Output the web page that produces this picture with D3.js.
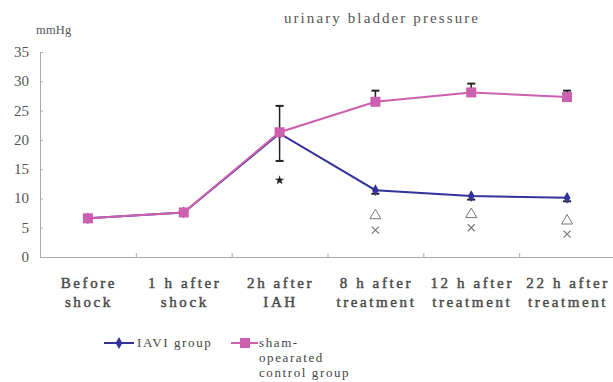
<!DOCTYPE html>
<html lang="en">
<head>
<meta charset="UTF-8">
<title>urinary bladder pressure</title>
<script src="https://d3js.org/d3.v7.min.js"></script>
<style>
    body { margin: 0; background: #fff; }
</style>
</head>
<body>
<svg id="chart" width="613" height="382"></svg>
<script>
    const categories = [["Before", "shock"], ["1 h after", "shock"], ["2h after", "IAH"],
        ["8 h after", "treatment"], ["12 h after", "treatment"], ["22 h after", "treatment"]];
    const shamValues = [6.6, 7.6, 21.3, 26.5, 28.1, 27.3];
    const shamErr = [0, 0, 0, 1.9, 1.5, 1.1];
    const iaviValues = [6.6, 7.6, 21.1, 11.4, 10.4, 10.1];
    const iaviErr = [0, 0, 4.7, 0.6, 0.6, 0.6];
    const starMarks = [{i: 2, v: 13.1}];
    const triMarks = [{i: 3, v: 7.3}, {i: 4, v: 7.5}, {i: 5, v: 6.4}];
    const crossMarks = [{i: 3, v: 4.6}, {i: 4, v: 5.0}, {i: 5, v: 3.9}];
    const yTicks = [0, 5, 10, 15, 20, 25, 30, 35];

    const serif = "'Liberation Serif', 'DejaVu Serif', serif";
    const blue = "#33339a";
    const pink = "#cc5fae";
    const svg = d3.select("#chart");
    const plotLeft = 40, plotRight = 615, plotTop = 52, plotBottom = 257;

    const x = d3.scaleBand().domain(d3.range(categories.length)).range([plotLeft, plotRight]);
    const y = d3.scaleLinear().domain([0, 35]).range([plotBottom, plotTop]);
    const cx = i => x(i) + x.bandwidth() / 2;

    // spaced serif text, roughly like the wide CJK-font latin in the original
    const label = (g, t, xx, yy, size, spacing, opts = {}) => g.append("text")
        .attr("font-family", serif).attr("x", xx).attr("y", yy)
        .attr("font-size", size).attr("letter-spacing", spacing)
        .attr("text-anchor", opts.anchor || "start")
        .attr("stroke", opts.stroke ? (opts.fill || "#555") : "none")
        .attr("stroke-width", opts.stroke || 0)
        .attr("fill", opts.fill || "#555").text(t);

    // title and unit
    label(svg, "urinary bladder pressure", 382, 23, 15, 2.1, {anchor: "middle"});
    label(svg, "mmHg", 36, 34, 12.5, 0.2);

    // y axis
    const yAxis = svg.append("g").attr("transform", `translate(${plotLeft},0)`)
        .call(d3.axisRight(y).tickValues(yTicks).tickSize(3).tickFormat(""));
    yAxis.selectAll("line, path").attr("stroke", "#aaa");
    svg.selectAll(".ylab").data(yTicks).enter().append("text")
        .attr("x", 29).attr("y", d => y(d) + 5)
        .attr("text-anchor", "end").attr("font-family", serif)
        .attr("font-size", 15).attr("fill", "#555").text(d => d);

    // x axis
    const xAxis = svg.append("g").attr("transform", `translate(0,${plotBottom})`)
        .call(d3.axisTop(d3.scaleLinear().domain([0, 6]).range([plotLeft, plotRight]))
            .tickValues(d3.range(1, 6)).tickSize(4).tickFormat(""));
    xAxis.selectAll("line, path").attr("stroke", "#aaa");
    categories.forEach((c, i) => {
        c.forEach((t, k) => {
            label(svg, t, cx(i) + 1, 288 + k * 19, 15, 2.6, {anchor: "middle", fill: "#4a4a4a", stroke: 0.45});
        });
    });

    const line = d3.line().x((d, i) => cx(i)).y(d => y(d));

    // error bars
    const errBar = (vals, errs, up, down) => {
        vals.forEach((v, i) => {
            if (!errs[i]) return;
            const y1 = up ? y(v + errs[i]) : y(v);
            const y2 = down ? y(v - errs[i]) : y(v);
            svg.append("line").attr("x1", cx(i)).attr("x2", cx(i)).attr("y1", y1).attr("y2", y2)
                .attr("stroke", "#222").attr("stroke-width", 1.5);
            [y1, y2].forEach(yy => {
                if (yy === y(v)) return;
                svg.append("line").attr("x1", cx(i) - 4).attr("x2", cx(i) + 4).attr("y1", yy).attr("y2", yy)
                    .attr("stroke", "#222").attr("stroke-width", 2);
            });
        });
    };
    errBar(iaviValues, iaviErr.map((e, i) => i === 2 ? 0 : e), false, true);
    errBar(shamValues, shamErr, true, false);
    // the 2h after IAH bar spans both sides
    errBar(iaviValues, iaviErr.map((e, i) => i === 2 ? e : 0), true, true);

    // IAVI group
    svg.append("path").datum(iaviValues).attr("d", line)
        .attr("fill", "none").attr("stroke", blue).attr("stroke-width", 2);
    svg.selectAll(".iavi").data(iaviValues).enter().append("path")
        .attr("transform", (d, i) => `translate(${cx(i)},${y(d)})`)
        .attr("d", d3.symbol(d3.symbolDiamond, 40)).attr("fill", blue);

    // sham group
    svg.append("path").datum(shamValues).attr("d", line)
        .attr("fill", "none").attr("stroke", pink).attr("stroke-width", 2);
    svg.selectAll(".sham").data(shamValues).enter().append("rect")
        .attr("x", (d, i) => cx(i) - 5).attr("y", d => y(d) - 5)
        .attr("width", 10).attr("height", 10).attr("fill", pink);

    // significance marks
    svg.selectAll(".star").data(starMarks).enter().append("path")
        .attr("transform", d => `translate(${cx(d.i)},${y(d.v)})`)
        .attr("d", d3.symbol(d3.symbolStar, 28)).attr("fill", "#222");
    svg.selectAll(".tri").data(triMarks).enter().append("path")
        .attr("transform", d => `translate(${cx(d.i)},${y(d.v)})`)
        .attr("d", "M0,-5L5.5,4.5L-5.5,4.5Z").attr("fill", "none").attr("stroke", "#777");
    svg.selectAll(".cross").data(crossMarks).enter().append("path")
        .attr("transform", d => `translate(${cx(d.i)},${y(d.v)})`)
        .attr("d", "M-3.5,-3.5L3.5,3.5M-3.5,3.5L3.5,-3.5").attr("stroke", "#777").attr("stroke-width", 1.2);

    // legend
    const lg = svg.append("g");
    lg.append("line").attr("x1", 104).attr("x2", 134).attr("y1", 343).attr("y2", 343)
        .attr("stroke", blue).attr("stroke-width", 2);
    lg.append("path").attr("transform", "translate(119,343)")
        .attr("d", d3.symbol(d3.symbolDiamond, 40)).attr("fill", blue);
    label(lg, "IAVI group", 137, 347, 13, 1.6, {fill: "#444"});
    lg.append("line").attr("x1", 231).attr("x2", 258).attr("y1", 343).attr("y2", 343)
        .attr("stroke", pink).attr("stroke-width", 2);
    lg.append("rect").attr("x", 240).attr("y", 338).attr("width", 10).attr("height", 10).attr("fill", pink);
    ["sham-", "opearated", "control group"].forEach((t, k) => {
        label(lg, t, 259, 347 + k * 15, 13, 1.6, {fill: "#444"});
    });
</script>
</body>
</html>
